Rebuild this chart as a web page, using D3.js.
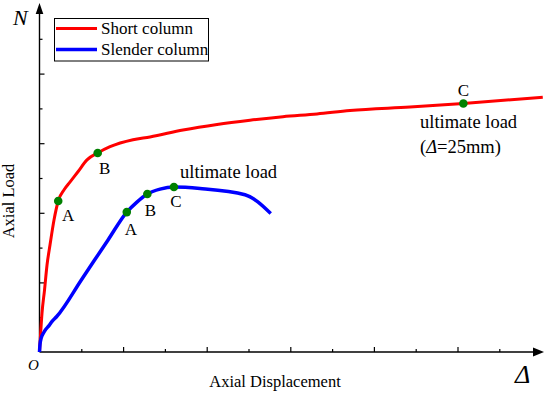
<!DOCTYPE html>
<html>
<head>
<meta charset="utf-8">
<script src="https://cdn.jsdelivr.net/npm/d3@7"></script>
<style>
  body { margin: 0; background: #fff; }
  svg { display: block; font-family: "Times New Roman", "Liberation Serif", serif; }
</style>
</head>
<body>
<div id="chart"></div>
<script>
// axial displacement (mm) vs axial load (relative units)
const shortX = [0, 0.06, 0.15, 0.30, 0.45, 0.63, 0.87, 1.12, 1.47, 1.82, 2.30, 2.84, 3.48, 4.22, 5.59, 6.61, 8.58, 10.62, 12.59, 14.56, 16.60, 18.57, 22.16, 25.35, 30.1];
const shortY = [0, 0.24, 0.56, 0.89, 1.25, 1.54, 1.90, 2.17, 2.33, 2.44, 2.59, 2.76, 2.86, 2.95, 3.05, 3.09, 3.19, 3.27, 3.33, 3.38, 3.42, 3.47, 3.52, 3.57, 3.66];
const slenderX = [0, 0.03, 0.10, 0.23, 0.39, 0.57, 0.75, 1.03, 2.54, 4.10, 5.22, 5.81, 6.45, 7.21, 8.04, 9.60, 12.29, 13.83];
const slenderY = [0, 0.11, 0.20, 0.27, 0.33, 0.38, 0.44, 0.51, 1.05, 1.61, 2.01, 2.15, 2.27, 2.34, 2.37, 2.35, 2.26, 1.99];

const stageNames = ["A", "B", "C"];
const shortStageX = [1.12, 3.48, 25.35];
const shortStageY = [2.17, 2.86, 3.57];
const slenderStageX = [5.22, 6.45, 8.04];
const slenderStageY = [2.01, 2.27, 2.37];

const seriesNames = ["Short column", "Slender column"];
const xMajor = [5, 10, 15, 20, 25];
const xMinor = [2.5, 7.5, 12.5, 17.5, 22.5, 27.5];
const yMajor = [1, 2, 3, 4];
const yMinor = [0.5, 1.5, 2.5, 3.5, 4.5];

const width = 550, height = 395;
const x = d3.scaleLinear().domain([0, 30]).range([39.5, 541.1]);
const y = d3.scaleLinear().domain([0, 5]).range([352, 4]);

const svg = d3.select("#chart").append("svg")
  .attr("width", width)
  .attr("height", height);

// ticks (inside)
svg.append("g").attr("transform", `translate(0,${y(0)})`)
  .call(d3.axisBottom(x).tickValues(xMajor).tickSize(-5).tickFormat(""))
  .call(g => g.select(".domain").remove());
svg.append("g").attr("transform", `translate(0,${y(0)})`)
  .call(d3.axisBottom(x).tickValues(xMinor).tickSize(-3).tickFormat(""))
  .call(g => g.select(".domain").remove());
svg.append("g").attr("transform", `translate(${x(0)},0)`)
  .call(d3.axisLeft(y).tickValues(yMajor).tickSize(-5).tickFormat(""))
  .call(g => g.select(".domain").remove());
svg.append("g").attr("transform", `translate(${x(0)},0)`)
  .call(d3.axisLeft(y).tickValues(yMinor).tickSize(-3).tickFormat(""))
  .call(g => g.select(".domain").remove());
svg.selectAll(".tick line").attr("stroke", "#000").attr("stroke-width", 1.2);

// axis lines with arrows
const x0 = x(0), y0 = y(0);
svg.append("line").attr("x1", x0).attr("y1", y0).attr("x2", 536).attr("y2", y0)
  .attr("stroke", "#000").attr("stroke-width", 1.4);
svg.append("line").attr("x1", x0).attr("y1", y0).attr("x2", x0).attr("y2", 12)
  .attr("stroke", "#000").attr("stroke-width", 1.4);
svg.append("path").attr("d", `M544,${y0} L533,${y0 - 4.5} L533,${y0 + 4.5} Z`).attr("fill", "#000");
svg.append("path").attr("d", `M${x0},3 L${x0 - 3.8},14 L${x0 + 3.8},14 Z`).attr("fill", "#000");

// curves
const line = d3.line().x(d => x(d[0])).y(d => y(d[1])).curve(d3.curveMonotoneX);
svg.append("path")
  .datum(shortX.map((v, i) => [v, shortY[i]]))
  .attr("d", line)
  .attr("fill", "none").attr("stroke", "#ff0000").attr("stroke-width", 3);
svg.append("path")
  .datum(slenderX.map((v, i) => [v, slenderY[i]]))
  .attr("d", line)
  .attr("fill", "none").attr("stroke", "#0000ff").attr("stroke-width", 3.5);

// stage markers + letters
const shortOff = [[10, 20], [7, 21], [0, -8]];
const slenderOff = [[4, 23], [3, 22], [2, 20]];
function stages(xs, ys, off) {
  const g = svg.append("g");
  xs.forEach((v, i) => {
    g.append("circle").attr("cx", x(v)).attr("cy", y(ys[i])).attr("r", 4.3).attr("fill", "#008000");
    g.append("text").attr("x", x(v) + off[i][0]).attr("y", y(ys[i]) + off[i][1])
      .attr("text-anchor", "middle").attr("font-size", 17).text(stageNames[i]);
  });
}
stages(shortStageX, shortStageY, shortOff);
stages(slenderStageX, slenderStageY, slenderOff);

// annotations
svg.append("text").attr("x", 180).attr("y", 178).attr("font-size", 18.5).text("ultimate load");
svg.append("text").attr("x", 420).attr("y", 128).attr("font-size", 18.5).text("ultimate load");
const t = svg.append("text").attr("x", 420).attr("y", 153).attr("font-size", 18.5);
t.append("tspan").text("(");
t.append("tspan").attr("font-style", "italic").text("Δ");
t.append("tspan").text("=25mm)");

// legend
svg.append("rect").attr("x", 54.5).attr("y", 18.5).attr("width", 154).attr("height", 42.5)
  .attr("fill", "#fff").attr("stroke", "#000").attr("stroke-width", 1);
const legColors = ["#ff0000", "#0000ff"];
seriesNames.forEach((name, i) => {
  const ly = 28.5 + i * 21;
  svg.append("line").attr("x1", 56).attr("x2", 97).attr("y1", ly).attr("y2", ly)
    .attr("stroke", legColors[i]).attr("stroke-width", i ? 3.5 : 3);
  svg.append("text").attr("x", 101).attr("y", ly + 5.5).attr("font-size", 17).text(name);
});

// axis labels
svg.append("text").attr("x", 13).attr("y", 25).attr("font-size", 22).attr("font-style", "italic").text("N");
svg.append("text").attr("x", 28).attr("y", 370).attr("font-size", 15).attr("font-style", "italic").text("O");
svg.append("text").attr("x", 515).attr("y", 383).attr("font-size", 26).attr("font-style", "italic").text("Δ");
svg.append("text").attr("x", 275).attr("y", 387).attr("text-anchor", "middle").attr("font-size", 16.5).text("Axial Displacement");
svg.append("text").attr("transform", "translate(14,201) rotate(-90)").attr("text-anchor", "middle")
  .attr("font-size", 16.5).text("Axial Load");
</script>
</body>
</html>
